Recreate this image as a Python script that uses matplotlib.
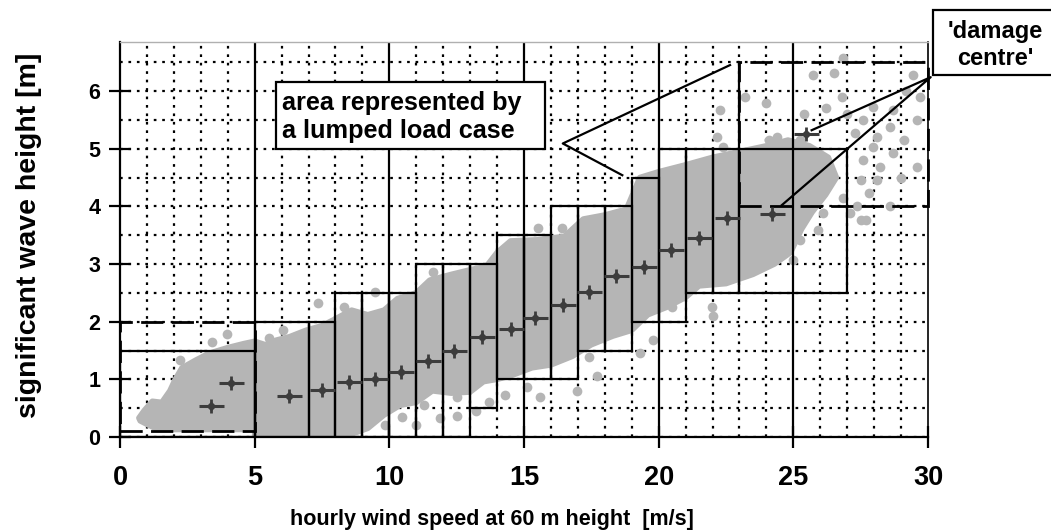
import matplotlib.pyplot as plt
from matplotlib.patches import Rectangle
from matplotlib.ticker import MultipleLocator
import numpy as np

plt.rcParams['font.family'] = ['Liberation Sans', 'DejaVu Sans']
plt.rcParams['font.weight'] = 'bold'

# outline of the dense part of the measured (wind speed, wave height) cloud
cloud_x = [0.7, 0.9, 1.2, 1.55, 1.85, 2.05, 2.3, 2.8, 3.3, 4.0, 4.6, 5.0, 5.4, 5.8,
           6.3, 6.9, 7.5, 8.0, 8.6, 9.2, 9.8, 10.3, 11.0, 11.5, 12.3, 13.0, 13.6,
           14.0, 14.5, 15.5, 16.5, 17.2, 18.0, 18.8, 19.3, 20.0, 21.0, 22.0, 23.0,
           24.0, 24.8, 25.6, 26.3, 26.6,
           26.2, 25.7, 25.3, 24.9, 24.3, 23.5, 22.5, 21.5, 21.0, 20.3, 19.6, 19.0,
           18.3, 17.5, 16.8, 16.0, 15.3, 14.5, 14.0, 13.5, 13.0, 12.3, 11.6, 11.0,
           10.4, 9.8, 9.2, 8.6, 8.2, 5.0, 5.0, 1.4, 1.0, 0.75]
cloud_y = [0.33, 0.46, 0.62, 0.6, 0.8, 1.0, 1.2, 1.33, 1.45, 1.55, 1.62, 1.66, 1.6, 1.68,
           1.74, 1.85, 1.93, 2.05, 2.2, 2.12, 2.2, 2.4, 2.5, 2.72, 2.82, 2.9, 2.96,
           3.2, 3.4, 3.42, 3.48, 3.78, 3.85, 3.95, 4.5, 4.6, 4.72, 4.85, 4.95,
           5.05, 5.15, 5.05, 4.85, 4.5,
           4.2, 3.9, 3.6, 3.2, 3.0, 2.82, 2.66, 2.62, 2.42, 2.25, 2.12, 1.85,
           1.75, 1.6, 1.4, 1.25, 1.2, 1.06, 1.0, 0.96, 0.78, 0.76, 0.8, 0.6,
           0.55, 0.38, 0.15, 0.05, 0.0, 0.0, 0.13, 0.13, 0.22, 0.28]

# single hours lying outside the dense cloud
dots_x = [2.23, 3.4, 3.96, 6.06, 5.55, 7.36, 9.47, 11.63, 8.3,
          9.85, 10.46, 11.0, 11.88, 12.5, 12.5, 11.3, 13.2, 13.7, 14.3, 15.1, 15.6,
          16.96, 17.7, 17.4, 19.3, 19.8, 20.5, 21.97, 22.0, 15.53, 16.4, 19.43, 20.4,
          26.86, 25.74, 26.5, 29.45, 23.2, 22.28, 24.0, 26.8, 26.98, 27.97, 28.7,
          29.58, 28.6, 27.6, 27.3, 28.1, 29.1, 29.58, 28.7, 27.97, 27.6, 28.2, 27.5,
          28.1, 29.0, 27.8, 27.35, 27.5, 27.7, 27.1, 26.1, 25.9, 25.25, 25.0, 24.6,
          28.6, 26.86, 22.15, 22.4, 24.1, 24.4, 25.25, 29.7, 29.2, 26.2, 25.4]
dots_y = [1.33, 1.64, 1.78, 1.85, 1.72, 2.32, 2.52, 2.86, 2.25,
          0.2, 0.35, 0.2, 0.33, 0.36, 0.7, 0.55, 0.45, 0.6, 0.73, 0.87, 0.7,
          0.79, 1.05, 1.39, 1.45, 1.68, 2.26, 2.26, 2.09, 3.62, 3.62, 4.4, 4.54,
          6.57, 6.28, 6.31, 6.28, 5.9, 5.67, 5.79, 5.9, 5.61, 5.73, 5.67,
          5.5, 5.38, 5.5, 5.27, 5.21, 5.15, 4.69, 4.92, 5.03, 4.8, 4.69, 4.46,
          4.46, 4.5, 4.23, 4.0, 3.76, 3.76, 3.88, 3.88, 3.59, 3.42, 3.07, 3.3,
          4.0, 4.14, 5.21, 5.03, 5.15, 5.2, 5.15, 5.9, 6.0, 5.7, 5.6]

# centres of the lumped load cases
centre_x = [3.38, 4.12, 6.29, 7.5, 8.51, 9.46, 10.43, 11.42, 12.39, 13.44, 14.5,
            15.42, 16.44, 17.42, 18.4, 19.45, 20.47, 21.48, 22.53, 24.2, 25.47]
centre_y = [0.53, 0.93, 0.71, 0.81, 0.96, 1.01, 1.12, 1.31, 1.49, 1.74, 1.88,
            2.06, 2.29, 2.51, 2.79, 2.94, 3.24, 3.45, 3.79, 3.86, 5.26]

# bins of the lumped load cases (wind speed from/to, wave height from/to)
bin_x0 = [0, 5, 7, 8, 9, 10, 11, 12, 13, 14, 15, 16, 17, 18, 19, 20, 21, 22, 23]
bin_x1 = [5, 7, 8, 9, 10, 11, 12, 13, 14, 15, 16, 17, 18, 19, 20, 21, 22, 23, 27]
bin_y0 = [0, 0, 0, 0, 0, 0, 0, 0, 0.5, 1, 1, 1, 1.5, 1.5, 2, 2, 2.5, 2.5, 2.5]
bin_y1 = [1.5, 2, 2, 2.5, 2.5, 2.5, 3, 3, 3, 3.5, 3.5, 4, 4, 4, 4.5, 5, 5, 5, 5]

# dashed bins at both ends
dash_x0 = [0, 23]
dash_x1 = [5, 30]
dash_y0 = [0.1, 4.0]
dash_y1 = [2.0, 6.5]

fig = plt.figure(figsize=(10.51, 5.31), dpi=100)
ax = fig.add_axes([120 / 1051, 1 - 437 / 531, 808 / 1051, 395 / 531])
ax.set_xlim(0, 30)
ax.set_ylim(0, 6.85)

ax.xaxis.set_major_locator(MultipleLocator(5))
ax.xaxis.set_minor_locator(MultipleLocator(1))
ax.yaxis.set_major_locator(MultipleLocator(1))
ax.yaxis.set_minor_locator(MultipleLocator(0.5))

dots = (0, (1.2, 2.6))
ax.set_axisbelow(True)
ax.grid(which='minor', axis='x', color='black', lw=1.6, linestyle=dots)
ax.grid(which='both', axis='y', color='black', lw=1.6, linestyle=dots)
ax.vlines(np.arange(5, 30, 5), 0, 6.85, color='black', lw=1.6, zorder=2.5)

gray = '#b5b5b5'
ax.fill(cloud_x, cloud_y, color=gray, ec=gray, lw=4, joinstyle='round', zorder=1)
ax.plot(dots_x, dots_y, 'o', color=gray, ms=7, mec='none', zorder=1)

for x0, x1, y0, y1 in zip(bin_x0, bin_x1, bin_y0, bin_y1):
    ax.add_patch(Rectangle((x0, y0), x1 - x0, y1 - y0, fill=False, ec='black', lw=1.6, zorder=3))
for x0, x1, y0, y1 in zip(dash_x0, dash_x1, dash_y0, dash_y1):
    ax.add_patch(Rectangle((x0, y0), x1 - x0, y1 - y0, fill=False, ec='black', lw=2,
                           linestyle=(0, (8, 3)), zorder=3, clip_on=False))
ax.plot([23, 23], [5, 6.5], color='black', lw=1.6, zorder=3)

mc = '#3c3c3c'
ax.plot(centre_x, centre_y, '_', color=mc, ms=18, mew=2.2, zorder=4)
ax.plot(centre_x, centre_y, '|', color=mc, ms=10, mew=2, zorder=4)
ax.plot(centre_x, centre_y, 'D', color=mc, ms=5, mec='none', zorder=4)

# callout for one lumped bin
ax.add_patch(Rectangle((5.8, 5.0), 9.98, 1.16, fc='white', ec='black', lw=1.6, zorder=5))
ax.text(6.0, 5.55, 'area represented by\na lumped load case', fontsize=18.2,
        ha='left', va='center', linespacing=1.2, zorder=6)
ax.plot([22.65, 16.44, 18.65], [6.45, 5.09, 4.54], color='black', lw=1.6, zorder=5)

# callout for the damage centres
ax.add_patch(Rectangle((30.19, 6.27), 5, 1.13, fc='white', ec='black', lw=1.6,
                       zorder=5, clip_on=False))
ax.text(32.49, 6.8, "'damage\ncentre'", fontsize=17, ha='center', va='center',
        linespacing=1.25, zorder=6, clip_on=False)
ax.plot([25.68, 30.1, 24.57], [5.32, 6.24, 4.02], color='black', lw=1.6,
        zorder=5, clip_on=False)

for s in ['left', 'bottom']:
    ax.spines[s].set_linewidth(1.6)
ax.spines['top'].set_color('#b0b0b0')
ax.spines['top'].set_linewidth(1)
ax.spines['right'].set_linewidth(1.2)

ax.tick_params(which='major', direction='inout', length=16, width=1.6, color='black')
ax.tick_params(which='minor', length=0)
ax.tick_params(axis='x', labelsize=19.5, pad=12)
ax.tick_params(axis='y', labelsize=15.5, pad=6)
for lab in ax.get_xticklabels() + ax.get_yticklabels():
    lab.set_fontweight('bold')

ax.set_ylabel('significant wave height [m]', fontsize=20.5, fontweight='bold')
ax.yaxis.set_label_coords(-78 / 808, 0.51)
fig.text(492 / 1051, 1 - 520 / 531, 'hourly wind speed at 60 m height  [m/s]',
         fontsize=15.5, fontweight='bold', ha='center', va='center')

fig.savefig('out.png', dpi=100)
